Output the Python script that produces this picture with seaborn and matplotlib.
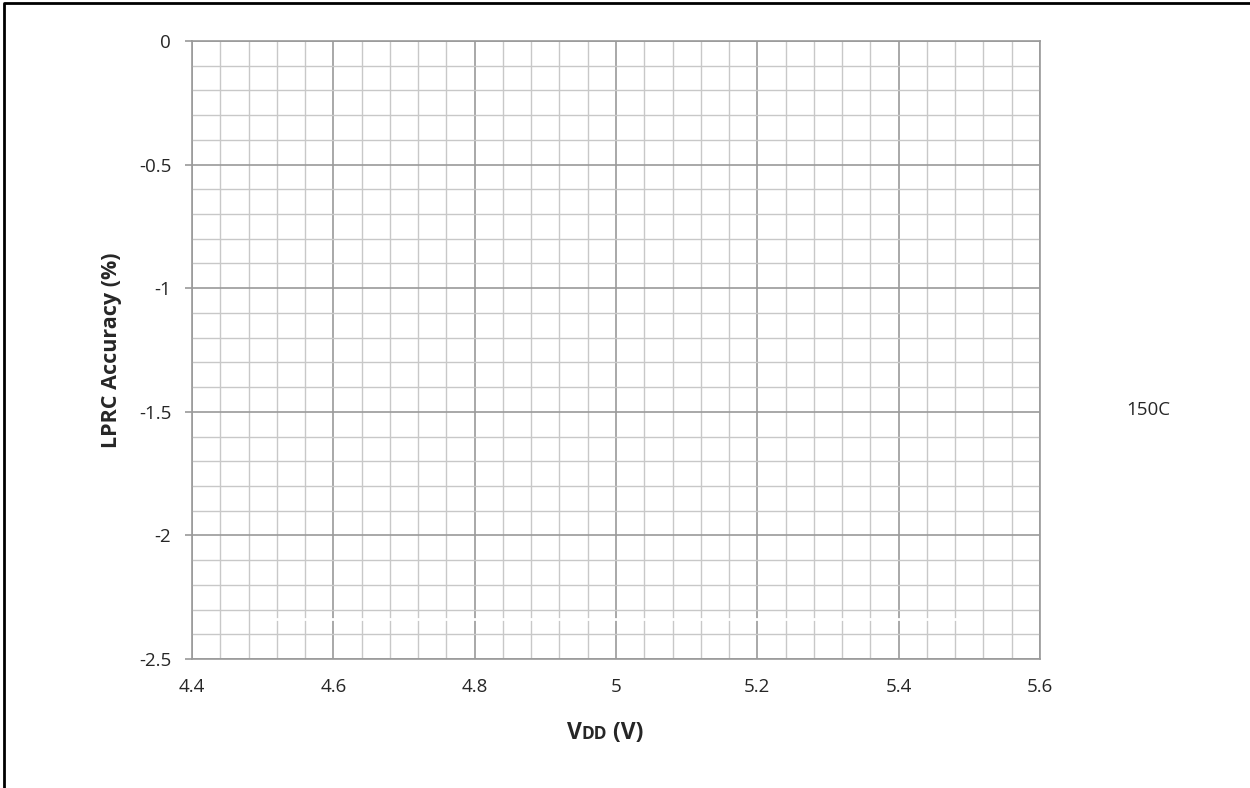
import numpy as np
import pandas as pd
import seaborn as sns
import matplotlib.pyplot as plt
from matplotlib.lines import Line2D
from matplotlib.offsetbox import TextArea, HPacker, AnchoredOffsetbox
from matplotlib.ticker import MultipleLocator

# 150C series (drawn in white in the original sheet)
vdd = [4.5, 4.75, 5.0, 5.25, 5.5]
accuracy_150c = [-2.34, -2.34, -2.34, -2.34, -2.34]
series_name = '150C'

df = pd.DataFrame({'VDD': vdd, 'Accuracy': accuracy_150c})

sns.set_style('white')
plt.rcParams['font.family'] = ['Open Sans', 'DejaVu Sans']

fig = plt.figure(figsize=(12.5, 7.88), dpi=100)
ax = fig.add_axes([192 / 1250, 1 - 659 / 788, 848 / 1250, 618 / 788])

sns.lineplot(data=df, x='VDD', y='Accuracy', ax=ax, color='white', linewidth=2,
             label=series_name, zorder=5)

ax.set_xlim(4.4, 5.6)
ax.set_ylim(-2.5, 0)
ax.xaxis.set_major_locator(MultipleLocator(0.2))
ax.xaxis.set_minor_locator(MultipleLocator(0.04))
ax.yaxis.set_major_locator(MultipleLocator(0.5))
ax.yaxis.set_minor_locator(MultipleLocator(0.1))
ax.set_xticks(np.round(np.arange(4.4, 5.61, 0.2), 1))
ax.set_xticklabels(['4.4', '4.6', '4.8', '5', '5.2', '5.4', '5.6'])
ax.set_yticks([0, -0.5, -1, -1.5, -2, -2.5])
ax.set_yticklabels(['0', '-0.5', '-1', '-1.5', '-2', '-2.5'])

ax.grid(which='major', color='#9a9a9a', linewidth=1.2)
ax.grid(which='minor', color='#c8c8c8', linewidth=1.0)
ax.set_axisbelow(True)
for side in ['left', 'bottom', 'top', 'right']:
    ax.spines[side].set_color('#9a9a9a')
    ax.spines[side].set_linewidth(1.2)

ax.tick_params(axis='y', which='major', length=5, width=1.2, color='#9a9a9a',
               direction='out', left=True, pad=10, labelsize=13.5)
ax.tick_params(axis='y', which='minor', length=0)
ax.tick_params(axis='x', which='both', length=0, pad=14, labelsize=13.5)

ax.set_xlabel('')
ax.set_ylabel('LPRC Accuracy (%)', fontsize=15.5, fontweight='bold', labelpad=12)

# x label with small-caps "DD"
parts = [TextArea('V', textprops=dict(fontsize=16.5, fontweight='bold')),
         TextArea('DD', textprops=dict(fontsize=12.5, fontweight='bold')),
         TextArea(' (V)', textprops=dict(fontsize=16.5, fontweight='bold'))]
box = HPacker(children=parts, align='baseline', pad=0, sep=0)
anchored = AnchoredOffsetbox(loc='center', child=box, frameon=False,
                             bbox_to_anchor=(605 / 1250, 1 - 733 / 788),
                             bbox_transform=fig.transFigure, borderpad=0)
fig.add_artist(anchored)

leg = ax.legend(loc='center left', bbox_to_anchor=(1053 / 1250, 1 - 410 / 788),
                bbox_transform=fig.transFigure, frameon=False, fontsize=13.5,
                handlelength=2.2)

# outer chart frame (left and top visible)
fig.add_artist(Line2D([4 / 1250, 4 / 1250, 1.0], [0.0, 1 - 3 / 788, 1 - 3 / 788],
                      transform=fig.transFigure, color='black', linewidth=2))

fig.savefig('out.png', dpi=100)
